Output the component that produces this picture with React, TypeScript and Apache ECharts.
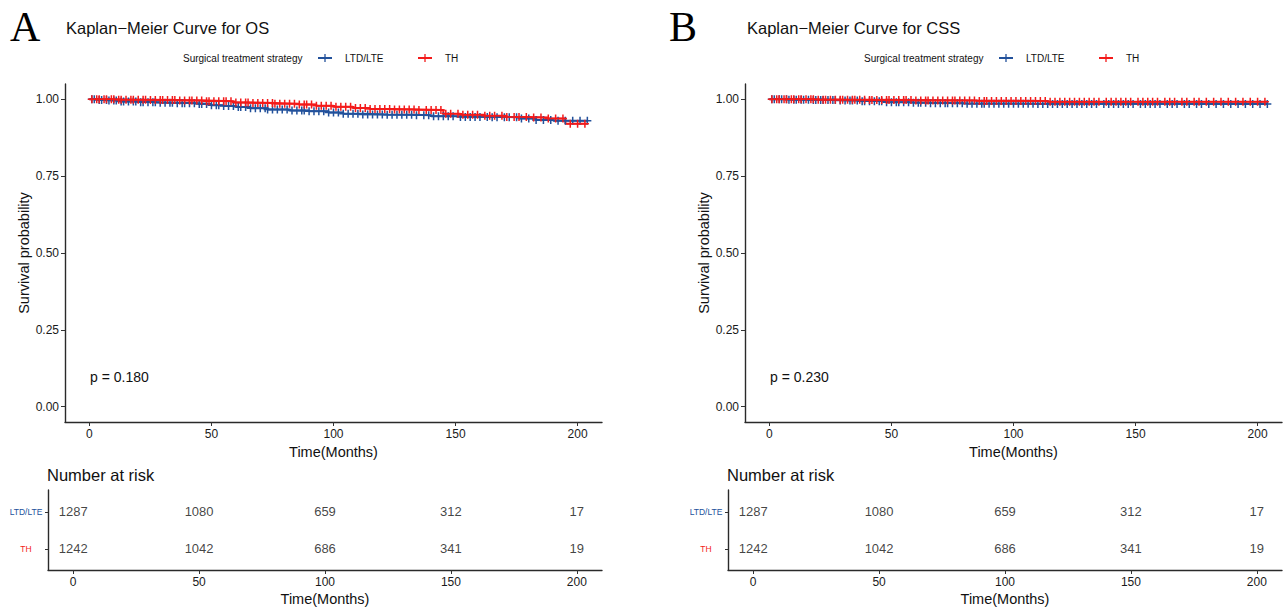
import React, { useEffect, useRef } from "react";
import * as echarts from "echarts";

// ---------- data ----------
const GROUPS = ["LTD/LTE", "TH"];
const TIME_TICKS = [0, 50, 100, 150, 200];
const SURV_TICKS = [0, 0.25, 0.5, 0.75, 1];

// OS (panel A)
const OS_LTD_T = [0, 3, 8, 13, 20, 28, 36, 44, 50, 55, 60, 66, 73, 82, 90, 98, 104, 112, 122, 133, 140, 150, 165, 176, 183, 190, 204];
const OS_LTD_S = [1.0, 0.998, 0.996, 0.993, 0.991, 0.989, 0.987, 0.985, 0.981, 0.978, 0.975, 0.971, 0.967, 0.964, 0.961, 0.957, 0.953, 0.951, 0.95, 0.948, 0.945, 0.943, 0.942, 0.938, 0.933, 0.93, 0.93];
const OS_TH_T = [0, 12, 24, 36, 48, 59, 66, 76, 86, 93, 100, 108, 115, 124, 135, 145, 152, 162, 171, 180, 188, 195, 204];
const OS_TH_S = [1.0, 0.999, 0.998, 0.996, 0.994, 0.99, 0.988, 0.986, 0.983, 0.979, 0.976, 0.972, 0.969, 0.967, 0.965, 0.953, 0.95, 0.947, 0.943, 0.941, 0.938, 0.921, 0.921];

// CSS (panel B)
const CSS_LTD_T = [0, 8, 18, 28, 38, 48, 58, 66, 80, 110, 204];
const CSS_LTD_S = [1.0, 0.999, 0.998, 0.996, 0.994, 0.991, 0.989, 0.987, 0.986, 0.985, 0.985];
const CSS_TH_T = [0, 20, 40, 60, 85, 114, 204];
const CSS_TH_S = [1.0, 0.999, 0.998, 0.996, 0.995, 0.992, 0.992];

// censoring times (months)
const CENS_LTD = [1, 2, 4, 5, 7, 8, 10, 11, 13, 14, 16, 18, 19, 21, 22, 24, 26, 27, 29, 31, 33, 34, 36, 38, 39, 41, 43, 45, 46, 48, 50, 52, 53, 55, 57, 59, 61, 62, 64, 66, 68, 70, 72, 73, 75, 77, 79, 81, 83, 85, 87, 88, 90, 92, 94, 96, 98, 100, 102, 104, 106, 108, 110, 112, 114, 116, 118, 120, 122, 124, 126, 128, 130, 132, 134, 137, 139, 141, 143, 145, 147, 149, 152, 154, 156, 158, 160, 163, 165, 167, 170, 172, 175, 177, 180, 183, 186, 189, 192, 195, 198, 201, 204];
const CENS_TH = [1, 3, 4, 6, 7, 9, 10, 12, 13, 15, 17, 18, 20, 22, 23, 25, 27, 29, 30, 32, 34, 35, 37, 39, 41, 42, 44, 46, 48, 49, 51, 53, 55, 56, 58, 60, 62, 64, 65, 67, 69, 71, 73, 75, 76, 78, 80, 82, 84, 86, 88, 89, 91, 93, 95, 97, 99, 101, 103, 105, 107, 109, 111, 113, 115, 117, 119, 121, 123, 125, 127, 129, 131, 133, 135, 138, 140, 142, 144, 146, 148, 151, 153, 155, 157, 159, 162, 164, 166, 169, 171, 174, 176, 179, 182, 185, 188, 191, 194, 197, 200, 203];

// number at risk
const RISK_LTD = [1287, 1080, 659, 312, 17];
const RISK_TH = [1242, 1042, 686, 341, 19];

const P_VALUES = ["p = 0.180", "p = 0.230"];
const TITLES = ["Kaplan\u2212Meier Curve for OS", "Kaplan\u2212Meier Curve for CSS"];
const PANEL_LETTERS = ["A", "B"];

// ---------- styling ----------
const BLUE = "#22519b";
const RED = "#f31a1a";
const FONT = "Liberation Sans, Arial, sans-serif";
const AXIS_COLOR = "#2a2a2a";

function survAt(ts: number[], ss: number[], t: number) {
  let v = ss[0];
  for (let i = 0; i < ts.length; i++) {
    if (ts[i] <= t) v = ss[i];
  }
  return v;
}

function App() {
  const ref = useRef<HTMLDivElement>(null);

  useEffect(() => {
    if (!ref.current) return;
    const chart = echarts.init(ref.current, null, { renderer: "svg" });

    const OFF = 680;
    const plotGrids = [
      { left: 65, top: 84, width: 537, height: 338 },
      { left: 65 + OFF, top: 84, width: 537, height: 338 },
    ];
    const tableGrids = [
      { left: 48, top: 490, width: 554, height: 80 },
      { left: 48 + OFF, top: 490, width: 554, height: 80 },
    ];

    const xAxis = (gridIndex: number, table: boolean) => ({
      type: "value",
      gridIndex,
      min: -10,
      max: 210,
      axisLine: { show: true, onZero: false, lineStyle: { color: AXIS_COLOR, width: 1.4 } },
      axisTick: { show: true, customValues: TIME_TICKS, length: 4, lineStyle: { color: "#333" } },
      axisLabel: {
        customValues: TIME_TICKS,
        fontSize: 12,
        color: "#1a1a1a",
        margin: 6,
        fontFamily: FONT,
      },
      splitLine: { show: false },
      name: "Time(Months)",
      nameLocation: "middle",
      nameGap: table ? 21 : 20,
      nameTextStyle: { fontSize: 14.5, color: "#111", fontFamily: FONT },
    });

    const yAxisPlot = (gridIndex: number) => ({
      type: "value",
      gridIndex,
      min: -0.05,
      max: 1.05,
      axisLine: { show: true, onZero: false, lineStyle: { color: AXIS_COLOR, width: 1.4 } },
      axisTick: { show: true, customValues: SURV_TICKS, length: 4, lineStyle: { color: "#333" } },
      axisLabel: {
        customValues: SURV_TICKS,
        formatter: (v: number) => v.toFixed(2),
        fontSize: 12,
        color: "#1a1a1a",
        margin: 6,
        fontFamily: FONT,
      },
      splitLine: { show: false },
      name: "Survival probability",
      nameLocation: "middle",
      nameGap: 33,
      nameTextStyle: { fontSize: 14.5, color: "#111", fontFamily: FONT },
    });

    const yAxisTable = (gridIndex: number) => ({
      type: "value",
      gridIndex,
      min: 0.43,
      max: 2.595,
      axisLine: { show: true, onZero: false, lineStyle: { color: AXIS_COLOR, width: 1.4 } },
      axisTick: { show: true, customValues: [1, 2], length: 3, lineStyle: { color: "#333" } },
      axisLabel: {
        customValues: [1, 2],
        formatter: (v: number) => (v === 2 ? "{b|" + GROUPS[0] + "}" : "{r|" + GROUPS[1] + "}"),
        align: "center",
        margin: 22,
        rich: {
          b: { color: BLUE, fontSize: 8.5, fontFamily: FONT },
          r: { color: RED, fontSize: 8.5, fontFamily: FONT },
        },
      },
      splitLine: { show: false },
    });

    const panels = [
      { lt: OS_LTD_T, ls: OS_LTD_S, rt: OS_TH_T, rs: OS_TH_S },
      { lt: CSS_LTD_T, ls: CSS_LTD_S, rt: CSS_TH_T, rs: CSS_TH_S },
    ];

    const crossSymbol = "path://M0,5L10,5M5,0L5,10";
    const series: any[] = [];
    panels.forEach((p, i) => {
      const curves = [
        { name: GROUPS[0], t: p.lt, s: p.ls, c: BLUE, cens: CENS_LTD },
        { name: GROUPS[1], t: p.rt, s: p.rs, c: RED, cens: CENS_TH },
      ];
      curves.forEach((cv) => {
        series.push({
          type: "line",
          name: cv.name,
          xAxisIndex: i,
          yAxisIndex: i,
          step: "end",
          showSymbol: false,
          data: cv.t.map((t, k) => [t, cv.s[k]]),
          lineStyle: { color: cv.c, width: 2 },
          itemStyle: { color: cv.c },
          z: 2,
        });
      });
      curves.forEach((cv) => {
        series.push({
          type: "scatter",
          name: cv.name + " censor",
          xAxisIndex: i,
          yAxisIndex: i,
          symbol: crossSymbol,
          symbolSize: 8,
          data: cv.cens.map((t) => [t, survAt(cv.t, cv.s, t)]),
          itemStyle: { color: "rgba(0,0,0,0)", borderColor: cv.c, borderWidth: 1.5, opacity: 1 },
          z: 3,
        });
      });
      // risk table
      const rows = [
        { y: 2, vals: RISK_LTD },
        { y: 1, vals: RISK_TH },
      ];
      rows.forEach((r) => {
        series.push({
          type: "scatter",
          xAxisIndex: 2 + i,
          yAxisIndex: 2 + i,
          symbolSize: 0,
          silent: true,
          data: TIME_TICKS.map((t, k) => [t, r.y, r.vals[k]]),
          label: {
            show: true,
            position: "inside",
            formatter: (d: any) => String(d.value[2]),
            fontSize: 13,
            color: "#111",
            fontFamily: FONT,
          },
        });
      });
    });

    const graphic: any[] = [];
    [0, 1].forEach((i) => {
      const dx = i * OFF;
      const ldx = i * 681;
      graphic.push({
        type: "text",
        left: 10 + i * 659,
        top: 6,
        style: { text: PANEL_LETTERS[i], fontSize: 42, fontFamily: "Liberation Serif, Times New Roman, serif", fill: "#000" },
      });
      graphic.push({
        type: "text",
        x: 66 + i * 681,
        y: 28,
        style: { text: TITLES[i], fontSize: 16.5, fontFamily: FONT, fill: "#111", verticalAlign: "middle" },
      });
      // legend
      graphic.push({
        type: "text",
        x: 183 + ldx,
        y: 58,
        style: { text: "Surgical treatment strategy", fontSize: 10, fontFamily: FONT, fill: "#111", verticalAlign: "middle" },
      });
      const legendItems = [
        { cx: 325, tx: 345, c: BLUE, label: GROUPS[0] },
        { cx: 425, tx: 445, c: RED, label: GROUPS[1] },
      ];
      legendItems.forEach((li) => {
        graphic.push({
          type: "line",
          shape: { x1: li.cx - 7 + ldx, y1: 58, x2: li.cx + 7 + ldx, y2: 58 },
          style: { stroke: li.c, lineWidth: 2 },
        });
        graphic.push({
          type: "line",
          shape: { x1: li.cx + ldx, y1: 54, x2: li.cx + ldx, y2: 62 },
          style: { stroke: li.c, lineWidth: 1.3 },
        });
        graphic.push({
          type: "text",
          x: li.tx + ldx,
          y: 58,
          style: { text: li.label, fontSize: 10, fontFamily: FONT, fill: "#111", verticalAlign: "middle" },
        });
      });
      // p value
      graphic.push({
        type: "text",
        x: 90 + dx,
        y: 377,
        style: { text: P_VALUES[i], fontSize: 14, fontFamily: FONT, fill: "#111", verticalAlign: "middle" },
      });
      // number at risk
      graphic.push({
        type: "text",
        x: 47 + dx,
        y: 475,
        style: { text: "Number at risk", fontSize: 16.5, fontFamily: FONT, fill: "#111", verticalAlign: "middle" },
      });
    });

    chart.setOption({
      animation: false,
      backgroundColor: "#fff",
      textStyle: { fontFamily: FONT },
      grid: [...plotGrids, ...tableGrids],
      xAxis: [xAxis(0, false), xAxis(1, false), xAxis(2, true), xAxis(3, true)],
      yAxis: [yAxisPlot(0), yAxisPlot(1), yAxisTable(2), yAxisTable(3)],
      series,
      graphic,
    });

    return () => chart.dispose();
  }, []);

  return (
    <div
      ref={ref}
      style={{ position: "fixed", left: 0, top: 0, width: 1283, height: 611, background: "#fff" }}
    />
  );
}

export default App;
